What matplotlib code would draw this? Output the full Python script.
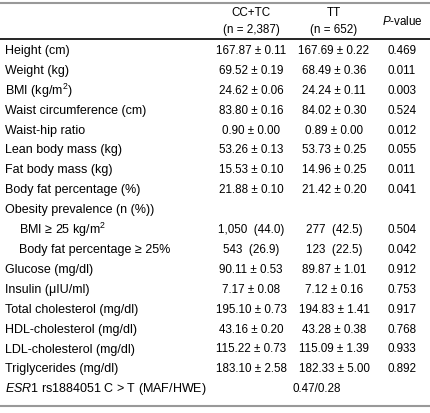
import matplotlib
matplotlib.use("Agg")
import matplotlib.pyplot as plt
from matplotlib.lines import Line2D

plt.rcParams['font.family'] = ['Liberation Sans', 'DejaVu Sans']
plt.rcParams['mathtext.fontset'] = 'custom'
plt.rcParams['mathtext.rm'] = 'Liberation Sans'
plt.rcParams['mathtext.it'] = 'Liberation Sans:italic'

W, H = 430, 413

header_top = ["CC+TC", "TT"]
header_bot = ["(n = 2,387)", "(n = 652)"]
header_p = "$\\mathit{P}$-value"

row_labels = [
    "Height (cm)", "Weight (kg)", "BMI (kg/m$^2$)", "Waist circumference (cm)",
    "Waist-hip ratio", "Lean body mass (kg)", "Fat body mass (kg)",
    "Body fat percentage (%)", "Obesity prevalence (n (%))",
    "BMI \u2265 25 kg/m$^2$", "Body fat percentage \u2265 25%",
    "Glucose (mg/dl)", "Insulin (\u03bcIU/ml)", "Total cholesterol (mg/dl)",
    "HDL-cholesterol (mg/dl)", "LDL-cholesterol (mg/dl)", "Triglycerides (mg/dl)",
    "$\\mathit{ESR1}$ rs1884051 C > T (MAF/HWE)",
]
indented = [False]*9 + [True, True] + [False]*7

cc_tc = ["167.87 \u00b1 0.11", "69.52 \u00b1 0.19", "24.62 \u00b1 0.06", "83.80 \u00b1 0.16",
         "0.90 \u00b1 0.00", "53.26 \u00b1 0.13", "15.53 \u00b1 0.10", "21.88 \u00b1 0.10",
         "", "1,050  (44.0)", "543  (26.9)", "90.11 \u00b1 0.53", "7.17 \u00b1 0.08",
         "195.10 \u00b1 0.73", "43.16 \u00b1 0.20", "115.22 \u00b1 0.73", "183.10 \u00b1 2.58", ""]
tt = ["167.69 \u00b1 0.22", "68.49 \u00b1 0.36", "24.24 \u00b1 0.11", "84.02 \u00b1 0.30",
      "0.89 \u00b1 0.00", "53.73 \u00b1 0.25", "14.96 \u00b1 0.25", "21.42 \u00b1 0.20",
      "", "277  (42.5)", "123  (22.5)", "89.87 \u00b1 1.01", "7.12 \u00b1 0.16",
      "194.83 \u00b1 1.41", "43.28 \u00b1 0.38", "115.09 \u00b1 1.39", "182.33 \u00b1 5.00", ""]
pvals = ["0.469", "0.011", "0.003", "0.524", "0.012", "0.055", "0.011", "0.041",
         "", "0.504", "0.042", "0.912", "0.753", "0.917", "0.768", "0.933", "0.892", ""]
maf_hwe = "0.47/0.28"

fig = plt.figure(figsize=(W/100, H/100), dpi=100)
fig.patch.set_facecolor('white')

def fx(x):
    return x / W

def fy(y):
    return 1 - y / H

fs_lab = 9
fs_num = 8.4
col_x = [251, 334, 402]

# horizontal rules
for y, c, lw in [(2.5, '#999999', 1.5), (39, 'black', 1.2), (406, '#999999', 1.5)]:
    fig.add_artist(Line2D([0, 1], [fy(y), fy(y)], transform=fig.transFigure, color=c, lw=lw))

# header
for j in range(2):
    fig.text(fx(col_x[j]), fy(13.5), header_top[j], ha='center', va='center', fontsize=fs_num)
    fig.text(fx(col_x[j]), fy(30), header_bot[j], ha='center', va='center', fontsize=fs_num)
fig.text(fx(col_x[2]), fy(21.5), header_p, ha='center', va='center', fontsize=fs_num)

y0, dy = 51, 19.9
for i, lab in enumerate(row_labels):
    y = y0 + i * dy
    x = 19 if indented[i] else 5
    fig.text(fx(x), fy(y), lab, ha='left', va='center', fontsize=fs_lab)
    fig.text(fx(col_x[0]), fy(y), cc_tc[i], ha='center', va='center', fontsize=fs_num)
    fig.text(fx(col_x[1]), fy(y), tt[i], ha='center', va='center', fontsize=fs_num)
    fig.text(fx(col_x[2]), fy(y), pvals[i], ha='center', va='center', fontsize=fs_num)

fig.text(fx(317), fy(y0 + 17 * dy), maf_hwe, ha='center', va='center', fontsize=fs_num)

fig.savefig("out.png", dpi=100, facecolor='white')
